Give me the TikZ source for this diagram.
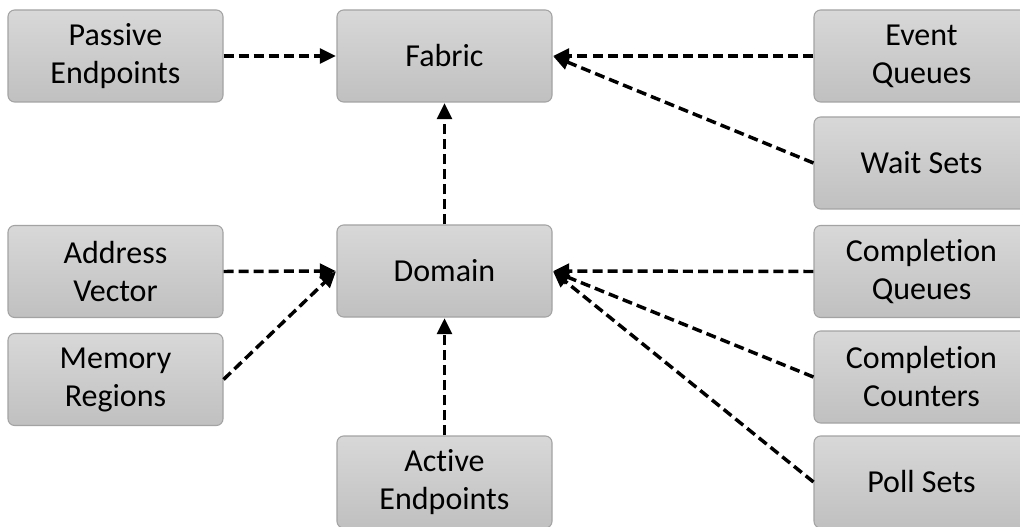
\documentclass[tikz,border=0pt]{standalone}
\usepackage{fontspec}
\setmainfont{Carlito}[Ligatures={NoCommon}]
\usetikzlibrary{arrows.meta}
\definecolor{boxtop}{HTML}{D8D8D8}
\definecolor{boxbot}{HTML}{C0C0C0}
\definecolor{boxline}{HTML}{A3A3A3}
\tikzset{
  objbox/.style={draw=boxline, line width=0.8pt, rounded corners=5pt,
    top color=boxtop, bottom color=boxbot,
    minimum width=161.25pt, minimum height=69pt, inner sep=0pt,
    align=center, font=\fontsize{24}{28.5}\selectfont},
  link/.style={line width=2.6pt, dash pattern=on 7.5pt off 3.8pt,
    -{Triangle[length=12pt,width=11pt]}, shorten >=0.5pt}
}
\begin{document}
\begin{tikzpicture}[x=0.75pt, y=-0.75pt]
\clip (0,0) rectangle (1020,527);
\fill[white] (0,0) rectangle (1020,527);

% left column
\node[objbox] (pep) at (115.5,56)    {Passive\\Endpoints};
\node[objbox] (av)  at (115.5,271.5) {Address\\Vector};
\node[objbox] (mr)  at (115.5,379.5) {Memory\\Regions};

% centre column
\node[objbox] (fab) at (444.5,56)  {Fabric};
\node[objbox] (dom) at (444.5,271) {Domain};
\node[objbox] (aep) at (444.5,482) {Active\\Endpoints};

% right column
\node[objbox] (eq)  at (921.5,56)    {Event\\Queues};
\node[objbox] (ws)  at (921.5,163)   {Wait Sets};
\node[objbox] (cq)  at (921.5,271.5) {Completion\\Queues};
\node[objbox] (cc)  at (921.5,377)   {Completion\\Counters};
\node[objbox] (ps)  at (921.5,482)   {Poll Sets};

% connections into the fabric
\draw[link] (pep.east) -- (fab.west);
\draw[link] (eq.west) -- (fab.east);
\draw[link] (ws.west) -- (fab.east);
\draw[link] (dom.north) -- (fab.south);

% connections into the domain
\draw[link] (av.east) -- (dom.west);
\draw[link] (mr.east) -- (dom.west);
\draw[link] (aep.north) -- (dom.south);
\draw[link] (cq.west) -- (dom.east);
\draw[link] (cc.west) -- (dom.east);
\draw[link] (ps.west) -- (dom.east);
\end{tikzpicture}
\end{document}
